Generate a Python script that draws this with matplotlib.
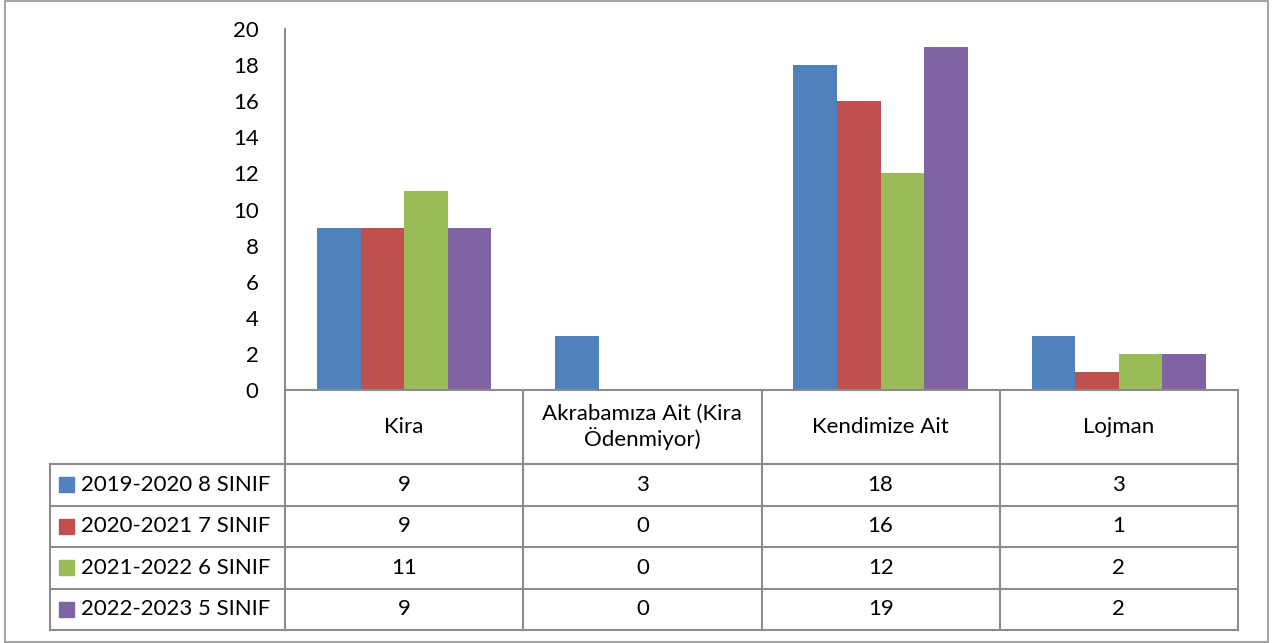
import numpy as np
import matplotlib
matplotlib.use('Agg')
import matplotlib.pyplot as plt
from matplotlib.patches import Rectangle

plt.rcParams['font.family'] = ['Lato', 'DejaVu Sans']

# Veri
kategoriler = ['Kira', 'Akrabamıza Ait (Kira\nÖdenmiyor)', 'Kendimize Ait', 'Lojman']
seriler = ['2019-2020 8 SINIF', '2020-2021 7 SINIF', '2021-2022 6 SINIF', '2022-2023 5 SINIF']
s2019 = [9, 3, 18, 3]
s2020 = [9, 0, 16, 1]
s2021 = [11, 0, 12, 2]
s2022 = [9, 0, 19, 2]
degerler = [s2019, s2020, s2021, s2022]
renkler = ['#4F81BD', '#C0504D', '#9BBB59', '#8064A2']
yticks = [0, 2, 4, 6, 8, 10, 12, 14, 16, 18, 20]

W, H = 1280, 643
fig = plt.figure(figsize=(W / 100, H / 100), dpi=100)
cizgi = '#8c8c8c'
fs = 16

# cerceve
fig.patches.append(Rectangle((5 / W, 1 - 642 / H), 1263 / W, 641 / H, transform=fig.transFigure,
                             fill=False, edgecolor='#a6a6a6', lw=1.5))

# Ana grafik
px0, px1, py0, py1 = 285, 1238, 29, 390
ax = fig.add_axes([px0 / W, 1 - py1 / H, (px1 - px0) / W, (py1 - py0) / H])
x = np.arange(len(kategoriler))
bw = 0.183
for i, (ad, v) in enumerate(zip(seriler, degerler)):
    ax.bar(x + (i - 1.5) * bw, v, bw, color=renkler[i], label=ad)
ax.set_xlim(-0.5, 3.5)
ax.set_ylim(0, 20)
ax.set_yticks(yticks)
ax.set_yticklabels([str(t) for t in yticks], fontsize=fs)
ax.tick_params(axis='y', length=0, pad=19)
ax.set_xticks([])
for s in ['top', 'right', 'bottom']:
    ax.spines[s].set_visible(False)
ax.spines['left'].set_color(cizgi)
ax.spines['left'].set_linewidth(1.5)
ax.patch.set_alpha(0)

# Veri tablosu
tx0, ty0, ty1 = 50, 390, 630
ax_t = fig.add_axes([tx0 / W, 1 - ty1 / H, (px1 - tx0) / W, (ty1 - ty0) / H])
colw = (px1 - px0) / 4.0
xl = -0.5 - (px0 - tx0) / colw
hh = 74 / 41.5
ntot = hh + 4
ax_t.set_xlim(xl, 3.5)
ax_t.set_ylim(ntot, 0)
ax_t.axis('off')

kw = dict(color=cizgi, lw=1.5, clip_on=False, solid_capstyle='projecting')
# yatay cizgiler
ax_t.plot([-0.5, 3.5], [0, 0], **kw)
for r in range(5):
    ax_t.plot([xl, 3.5], [hh + r, hh + r], **kw)
# dikey cizgiler
ax_t.plot([xl, xl], [hh, ntot], **kw)
for c in range(5):
    ax_t.plot([c - 0.5, c - 0.5], [0, ntot], **kw)

for c, k in enumerate(kategoriler):
    ax_t.text(c, hh / 2, k, ha='center', va='center', fontsize=fs, linespacing=1.2)

kare_w = 15 / colw
kare_h = 15 / 41.5
for r, (ad, v) in enumerate(zip(seriler, degerler)):
    yc = hh + r + 0.5
    ax_t.add_patch(Rectangle((xl + 9 / colw, yc - kare_h / 2), kare_w, kare_h,
                             color=renkler[r], clip_on=False))
    ax_t.text(xl + 31 / colw, yc, ad, ha='left', va='center', fontsize=fs)
    for c, val in enumerate(v):
        ax_t.text(c, yc, str(val), ha='center', va='center', fontsize=fs)

fig.savefig('out.png', dpi=100)
